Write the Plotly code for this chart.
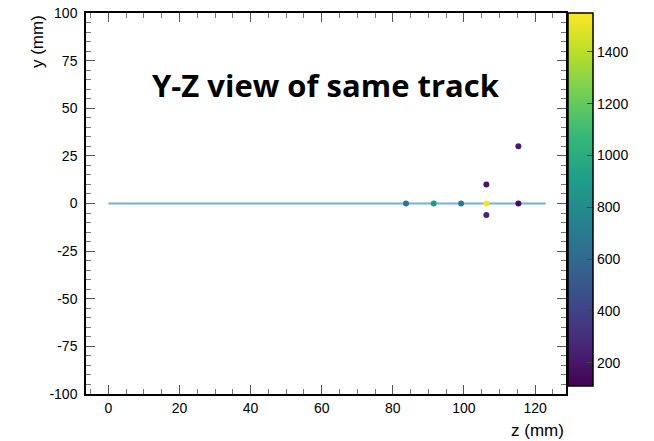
import plotly.graph_objects as go

# Hits (z, y, charge)
hit_z = [83.7, 91.5, 99.2, 106.3, 106.3, 106.3, 115.3, 115.3]
hit_y = [0, 0, 0, 0, 10, -6, 0, 30]
hit_q = [680, 900, 690, 1530, 200, 260, 160, 210]

# Fitted track line
track_z = [0, 123]
track_y = [0, 0]

x_ticks = [0, 20, 40, 60, 80, 100, 120]
y_ticks = [-100, -75, -50, -25, 0, 25, 50, 75, 100]
c_ticks = [200, 400, 600, 800, 1000, 1200, 1400]

title_text = "Y-Z view of same track"

fig = go.Figure()
fig.add_trace(go.Scatter(x=track_z, y=track_y, mode="lines",
                         line=dict(color="#72b2da", width=2), hoverinfo="skip",
                         showlegend=False))
fig.add_trace(go.Scatter(
    x=hit_z, y=hit_y, mode="markers",
    marker=dict(size=6, color=hit_q, colorscale="Viridis", cmin=110, cmax=1550,
                colorbar=dict(x=1.004, xanchor="left", y=1, yanchor="top",
                              lenmode="pixels", len=373, thickness=25,
                              outlinecolor="black", outlinewidth=1.5,
                              ticks="inside", ticklen=6, tickcolor="#444",
                              tickvals=c_ticks,
                              tickfont=dict(family="Liberation Sans", size=14, color="black"),
                              xpad=0, ypad=0)),
    showlegend=False))

axis_common = dict(showline=True, mirror="ticks", linecolor="black", linewidth=1.5,
                   ticks="inside", ticklen=9, tickcolor="#555", tickwidth=1,
                   showgrid=False, zeroline=False,
                   tickfont=dict(family="Liberation Sans", size=14, color="black"))

fig.update_layout(
    width=654, height=441,
    margin=dict(l=86, r=88, t=13, b=47, autoexpand=False),
    paper_bgcolor="white", plot_bgcolor="white",
    xaxis=dict(range=[-6.3, 128.7], tickvals=x_ticks, ticktext=[str(v) for v in x_ticks],
               minor=dict(dtick=5, tick0=0, ticks="inside", ticklen=5, tickcolor="#777", showgrid=False),
               **axis_common),
    yaxis=dict(range=[-100, 100], tickvals=y_ticks, ticktext=[str(v) for v in y_ticks],
               ticklabelstandoff=4,
               minor=dict(dtick=5, tick0=0, ticks="inside", ticklen=5, tickcolor="#777", showgrid=False),
               **axis_common),
    annotations=[
        dict(text=title_text, x=0.5, y=0.81, xref="paper", yref="paper",
             xanchor="center", yanchor="middle", showarrow=False,
             font=dict(family="Open Sans", size=31, color="black", weight="bold")),
        dict(text="z (mm)", x=1.0, y=-0.065, xref="paper", yref="paper",
             xanchor="right", yanchor="top", showarrow=False,
             font=dict(family="Liberation Sans", size=17, color="black")),
        dict(text="y (mm)", x=-0.077, y=1.0, xref="paper", yref="paper",
             xanchor="right", yanchor="top", showarrow=False, textangle=-90,
             font=dict(family="Liberation Sans", size=17, color="black")),
    ],
)

fig.write_html("out.html")
